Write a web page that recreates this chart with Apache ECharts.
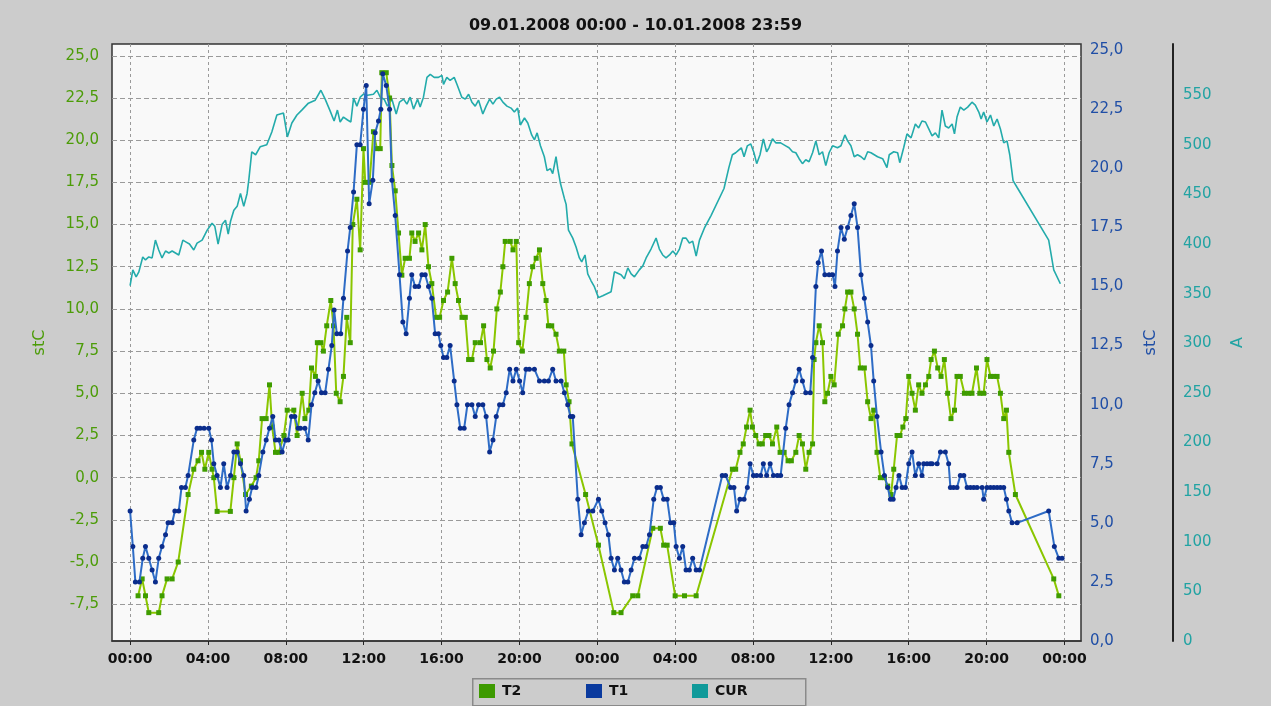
<!DOCTYPE html>
<html>
<head>
<meta charset="utf-8">
<script src="https://cdn.jsdelivr.net/npm/echarts@6/dist/echarts.min.js"></script>
<style>
html,body{margin:0;padding:0;background:#cccccc;}
#chart{width:1271px;height:706px;}
</style>
</head>
<body>
<div id="chart"></div>
<script>
// ---- data (time in hours since 09.01.2008 00:00) ----
const titleText = '09.01.2008 00:00 - 10.01.2008 23:59';
const xTicks = [0, 4, 8, 12, 16, 20, 24, 28, 32, 36, 40, 44, 48];
const xTickLabels = ['00:00','04:00','08:00','12:00','16:00','20:00','00:00','04:00','08:00','12:00','16:00','20:00','00:00'];
const leftTicks = [-7.5, -5, -2.5, 0, 2.5, 5, 7.5, 10, 12.5, 15, 17.5, 20, 22.5, 25];
const rightTicks = [0, 2.5, 5, 7.5, 10, 12.5, 15, 17.5, 20, 22.5, 25];
const ampTicks = [0, 50, 100, 150, 200, 250, 300, 350, 400, 450, 500, 550];
const seriesNames = ['T2', 'T1', 'CUR'];

const t2Data = [[0.41,-7],[0.62,-6],[0.79,-7],[0.96,-8],[1.47,-8],[1.64,-7],[1.9,-6],[2.16,-6],[2.47,-5],[2.98,-1],[3.27,0.5],[3.49,1],[3.67,1.5],[3.84,0.5],[4.04,1.5],[4.21,0.5],[4.3,0],[4.47,-2],[5.15,-2],[5.33,0],[5.5,2],[5.67,1],[5.93,-1],[6.23,-0.5],[6.47,0],[6.61,1],[6.78,3.5],[6.99,3.5],[7.16,5.5],[7.3,3],[7.47,1.5],[7.64,1.5],[7.9,2.5],[8.07,4],[8.41,4],[8.58,2.5],[8.84,5],[8.98,3.5],[9.18,4],[9.32,6.5],[9.52,6],[9.62,8],[9.8,8],[9.93,7.5],[10.1,9],[10.31,10.5],[10.45,9],[10.59,5],[10.79,4.5],[10.96,6],[11.13,9.5],[11.31,8],[11.44,15],[11.65,16.5],[11.82,13.5],[11.99,19.5],[12.08,17.5],[12.3,17.5],[12.5,20.5],[12.68,19.5],[12.85,19.5],[12.93,24],[13.16,24],[13.33,22.5],[13.45,18.5],[13.62,17],[13.79,14.5],[13.96,12],[14.13,13],[14.35,13],[14.47,14.5],[14.64,14],[14.82,14.5],[14.99,13.5],[15.16,15],[15.33,12.5],[15.5,11.5],[15.72,9.5],[15.9,9.5],[16.1,10.5],[16.31,11],[16.53,13],[16.7,11.5],[16.87,10.5],[17.05,9.5],[17.22,9.5],[17.39,7],[17.56,7],[17.73,8],[18.0,8],[18.16,9],[18.33,7],[18.5,6.5],[18.67,7.5],[18.84,10],[19.02,11],[19.15,12.5],[19.27,14],[19.53,14],[19.67,13.5],[19.84,14],[19.96,8],[20.15,7.5],[20.34,9.5],[20.51,11.5],[20.68,12.5],[20.86,13],[21.03,13.5],[21.2,11.5],[21.37,10.5],[21.49,9],[21.66,9],[21.88,8.5],[22.05,7.5],[22.28,7.5],[22.4,5.5],[22.55,4.5],[22.7,2],[23.4,-1],[24.06,-4],[24.85,-8],[25.22,-8],[25.82,-7],[26.08,-7],[26.85,-3],[27.24,-3],[27.41,-4],[27.59,-4],[28.0,-7],[28.48,-7],[29.08,-7],[30.94,0.5],[31.11,0.5],[31.33,1.5],[31.5,2],[31.67,3],[31.85,4],[31.97,3],[32.14,2.5],[32.31,2],[32.48,2],[32.65,2.5],[32.82,2.5],[33.0,2],[33.22,3],[33.39,1.5],[33.6,1.5],[33.8,1],[33.97,1],[34.2,1.5],[34.37,2.5],[34.54,2],[34.71,0.5],[34.88,1.5],[35.06,2],[35.14,7],[35.23,8],[35.4,9],[35.57,8],[35.69,4.5],[35.83,5],[36.0,6],[36.17,5.5],[36.38,8.5],[36.6,9],[36.72,10],[36.86,11],[37.03,11],[37.2,10],[37.37,8.5],[37.51,6.5],[37.72,6.5],[37.89,4.5],[38.06,3.5],[38.2,4],[38.37,1.5],[38.54,0],[38.75,0],[38.92,-0.5],[39.09,-1],[39.23,0.5],[39.4,2.5],[39.55,2.5],[39.7,3],[39.85,3.5],[40.0,6],[40.17,5],[40.34,4],[40.51,5.5],[40.68,5],[40.86,5.5],[41.03,6],[41.15,7],[41.32,7.5],[41.49,6.5],[41.66,6],[41.83,7],[42.0,5],[42.17,3.5],[42.35,4],[42.48,6],[42.65,6],[42.86,5],[43.08,5],[43.25,5],[43.48,6.5],[43.65,5],[43.85,5],[44.02,7],[44.2,6],[44.37,6],[44.54,6],[44.71,5],[44.88,3.5],[45.02,4],[45.14,1.5],[45.48,-1],[47.45,-6],[47.71,-7]];

const t1Data = [[0,5.5],[0.14,4],[0.27,2.5],[0.48,2.5],[0.65,3.5],[0.79,4],[0.96,3.5],[1.13,3],[1.3,2.5],[1.47,3.5],[1.64,4],[1.82,4.5],[1.95,5],[2.16,5],[2.3,5.5],[2.5,5.5],[2.64,6.5],[2.84,6.5],[2.98,7],[3.27,8.5],[3.44,9],[3.6,9],[3.8,9],[4.04,9],[4.18,8.5],[4.3,7.5],[4.47,7],[4.64,6.5],[4.81,7.5],[4.98,6.5],[5.16,7],[5.33,8],[5.5,8],[5.67,7.5],[5.84,7],[5.96,5.5],[6.13,6],[6.27,6.5],[6.47,6.5],[6.61,7],[6.82,8],[6.99,8.5],[7.16,9],[7.33,9.5],[7.47,8.5],[7.64,8.5],[7.81,8],[7.98,8.5],[8.12,8.5],[8.29,9.5],[8.46,9.5],[8.63,9],[8.75,9],[8.98,9],[9.15,8.5],[9.32,10],[9.49,10.5],[9.66,11],[9.83,10.5],[10.02,10.5],[10.19,11.5],[10.36,12.5],[10.48,14],[10.62,13],[10.82,13],[10.96,14.5],[11.17,16.5],[11.31,17.5],[11.48,19],[11.65,21],[11.82,21],[11.99,22.5],[12.13,23.5],[12.28,18.5],[12.47,19.5],[12.59,21.5],[12.76,22],[12.88,22.5],[12.98,24],[13.16,23.5],[13.33,22.5],[13.45,19.5],[13.62,18],[13.84,15.5],[14.01,13.5],[14.18,13],[14.35,14.5],[14.47,15.5],[14.64,15],[14.82,15],[14.99,15.5],[15.16,15.5],[15.33,15],[15.5,14.5],[15.67,13],[15.84,13],[15.96,12.5],[16.1,12],[16.27,12],[16.44,12.5],[16.65,11],[16.79,10],[16.96,9],[17.16,9],[17.33,10],[17.56,10],[17.73,9.5],[17.9,10],[18.12,10],[18.29,9.5],[18.47,8],[18.64,8.5],[18.81,9.5],[18.98,10],[19.15,10],[19.32,10.5],[19.5,11.5],[19.67,11],[19.84,11.5],[20.01,11],[20.17,10.5],[20.34,11.5],[20.51,11.5],[20.77,11.5],[21.03,11],[21.28,11],[21.49,11],[21.71,11.5],[21.88,11],[22.14,11],[22.31,10.5],[22.48,10],[22.62,9.5],[22.74,9.5],[23.0,6],[23.17,4.5],[23.34,5],[23.54,5.5],[23.77,5.5],[24.06,6],[24.23,5.5],[24.4,5],[24.57,4.5],[24.71,3.5],[24.88,3],[25.05,3.5],[25.22,3],[25.39,2.5],[25.57,2.5],[25.74,3],[25.91,3.5],[26.16,3.5],[26.34,4],[26.51,4],[26.68,4.5],[26.9,6],[27.07,6.5],[27.24,6.5],[27.41,6],[27.59,6],[27.76,5],[27.93,5],[28.05,4],[28.22,3.5],[28.39,4],[28.56,3],[28.73,3],[28.9,3.5],[29.08,3],[29.25,3],[30.42,7],[30.59,7],[30.85,6.5],[31.02,6.5],[31.16,5.5],[31.33,6],[31.54,6],[31.71,6.5],[31.85,7.5],[32.02,7],[32.19,7],[32.39,7],[32.53,7.5],[32.7,7],[32.88,7.5],[33.05,7],[33.25,7],[33.42,7],[33.68,9],[33.85,10],[34.03,10.5],[34.2,11],[34.37,11.5],[34.54,11],[34.71,10.5],[34.94,10.5],[35.06,12],[35.23,15],[35.35,16],[35.52,16.5],[35.69,15.5],[35.91,15.5],[36.09,15.5],[36.21,15],[36.34,16.5],[36.52,17.5],[36.69,17],[36.86,17.5],[37.03,18],[37.2,18.5],[37.37,17.5],[37.55,15.5],[37.72,14.5],[37.89,13.5],[38.06,12.5],[38.2,11],[38.37,9.5],[38.58,8],[38.75,7],[38.92,6.5],[39.06,6],[39.2,6],[39.35,6.5],[39.5,7],[39.66,6.5],[39.83,6.5],[40.0,7.5],[40.17,8],[40.34,7],[40.51,7.5],[40.68,7],[40.77,7.5],[40.94,7.5],[41.1,7.5],[41.2,7.5],[41.46,7.5],[41.63,8],[41.88,8],[42.05,7.5],[42.14,6.5],[42.3,6.5],[42.48,6.5],[42.65,7],[42.83,7],[43.0,6.5],[43.17,6.5],[43.34,6.5],[43.51,6.5],[43.77,6.5],[43.85,6],[44.02,6.5],[44.2,6.5],[44.37,6.5],[44.54,6.5],[44.71,6.5],[44.88,6.5],[45.02,6],[45.14,5.5],[45.31,5],[45.57,5],[47.19,5.5],[47.48,4],[47.71,3.5],[47.88,3.5]];

const curData = [[0,358],[0.14,374],[0.31,367],[0.45,372],[0.65,387],[0.79,384],[0.96,387],[1.13,386],[1.3,404],[1.47,394],[1.64,386],[1.82,393],[1.99,391],[2.16,393],[2.33,391],[2.5,389],[2.71,404],[2.88,402],[3.05,400],[3.27,394],[3.44,401],[3.7,404],[3.96,414],[4.21,421],[4.35,418],[4.52,400],[4.73,420],[4.9,424],[5.04,410],[5.16,423],[5.33,434],[5.5,438],[5.67,451],[5.84,438],[6.01,451],[6.1,465],[6.25,493],[6.45,490],[6.68,498],[7.02,500],[7.28,513],[7.54,530],[7.88,532],[8.08,508],[8.31,522],[8.57,530],[8.82,535],[9.16,542],[9.51,545],[9.8,555],[10.02,546],[10.28,534],[10.48,524],[10.65,535],[10.79,523],[10.96,528],[11.17,525],[11.34,523],[11.48,547],[11.65,539],[11.82,548],[11.99,551],[12.19,550],[12.5,551],[12.68,555],[12.85,548],[13.05,546],[13.22,539],[13.45,546],[13.67,531],[13.84,543],[14.05,546],[14.22,541],[14.39,548],[14.56,536],[14.77,546],[14.9,538],[15.07,548],[15.25,568],[15.42,571],[15.62,568],[15.84,568],[16.02,570],[16.1,561],[16.27,568],[16.44,565],[16.65,568],[16.79,561],[17.04,548],[17.22,546],[17.39,551],[17.56,543],[17.73,539],[17.9,545],[18.12,531],[18.29,539],[18.47,546],[18.64,541],[18.81,546],[18.98,548],[19.15,543],[19.36,539],[19.57,537],[19.74,533],[19.91,537],[20.05,520],[20.26,527],[20.43,522],[20.63,510],[20.77,505],[20.91,512],[21.08,499],[21.28,488],[21.42,474],[21.59,476],[21.71,471],[21.88,488],[21.97,476],[22.11,461],[22.31,446],[22.4,440],[22.52,414],[22.74,406],[22.91,397],[23.08,386],[23.2,382],[23.37,389],[23.51,370],[23.68,363],[23.85,357],[24.06,346],[24.28,348],[24.71,352],[24.88,372],[25.22,369],[25.39,365],[25.57,376],[25.74,370],[25.91,367],[26.16,374],[26.34,378],[26.51,386],[26.76,395],[27.02,406],[27.19,395],[27.36,389],[27.53,386],[27.71,389],[27.88,393],[28.05,389],[28.22,395],[28.39,406],[28.56,406],[28.73,401],[28.9,403],[29.08,388],[29.25,404],[29.5,416],[29.85,429],[30.51,456],[30.76,477],[30.94,490],[31.11,492],[31.28,495],[31.4,497],[31.54,488],[31.71,499],[31.88,501],[32.05,492],[32.19,481],[32.36,490],[32.53,506],[32.7,493],[32.82,497],[33.0,506],[33.17,502],[33.42,502],[33.68,499],[33.85,497],[34.03,493],[34.2,492],[34.37,486],[34.54,481],[34.71,485],[34.88,483],[35.06,492],[35.23,504],[35.4,490],[35.57,493],[35.74,479],[35.91,492],[36.09,499],[36.34,497],[36.52,499],[36.72,510],[36.86,504],[37.03,499],[37.2,488],[37.37,490],[37.55,488],[37.72,485],[37.89,493],[38.06,492],[38.23,490],[38.4,488],[38.66,486],[38.88,477],[39.0,490],[39.23,493],[39.43,492],[39.54,482],[39.74,497],[39.91,511],[40.12,507],[40.34,521],[40.51,517],[40.68,524],[40.86,523],[41.03,516],[41.2,509],[41.37,512],[41.54,507],[41.71,535],[41.88,519],[42.05,517],[42.23,521],[42.35,511],[42.48,528],[42.65,538],[42.83,535],[43.03,538],[43.25,543],[43.42,540],[43.6,533],[43.72,526],[43.85,533],[44.02,523],[44.2,530],[44.37,519],[44.54,526],[44.71,516],[44.88,502],[45.05,504],[45.19,490],[45.36,464],[45.57,457],[47.19,404],[47.45,374],[47.79,360]];

// ---- chart ----
const FONT = 'DejaVu Sans';
const dec = v => v.toFixed(1).replace('.', ',');
const legendColors = ['#3d9a00', '#0a3a9e', '#109a9a'];
const legendLeft = [479, 586, 692];

const legends = seriesNames.map((n, i) => ({
  left: legendLeft[i], top: 684,
  itemWidth: 16, itemHeight: 14, itemGap: 0, padding: 0,
  icon: 'rect',
  textStyle: {fontFamily: FONT, fontWeight: 'bold', fontSize: 14, color: '#111', padding: [0, 0, 0, 2]},
  data: [{name: n, itemStyle: {color: legendColors[i]}}]
}));

const chart = echarts.init(document.getElementById('chart'), null, {renderer: 'canvas'});
chart.setOption({
  backgroundColor: '#cccccc',
  animation: false,
  title: {
    text: titleText, left: 'center', top: 13,
    textStyle: {fontFamily: FONT, fontSize: 16, fontWeight: 'bold', color: '#111'}
  },
  graphic: [{
    type: 'rect', left: 472, top: 678, z: -1,
    shape: {width: 333, height: 27},
    style: {fill: '#cccccc', stroke: '#8a8a8a', lineWidth: 1.5}
  }],
  grid: {
    left: 112, right: 190, top: 44, bottom: 65,
    show: true, backgroundColor: '#f9f9f9', borderColor: '#333', borderWidth: 1.5
  },
  legend: legends,
  xAxis: {
    type: 'value', min: -0.93, max: 48.85,
    axisLine: {show: true, onZero: false, lineStyle: {color: '#333', width: 1.5}},
    axisTick: {show: true, customValues: xTicks, length: 4, lineStyle: {color: '#222'}},
    axisLabel: {
      customValues: xTicks, margin: 11,
      formatter: v => xTickLabels[xTicks.indexOf(v)],
      fontFamily: FONT, fontWeight: 'bold', fontSize: 14, color: '#111'
    },
    splitLine: {show: true, lineStyle: {color: '#9a9a9a', width: 1, type: [3, 3]}}
  },
  yAxis: [
    {
      type: 'value', position: 'left', min: -9.68, max: 25.70,
      name: 'stC', nameLocation: 'middle', nameGap: 64,
      nameTextStyle: {fontFamily: FONT, fontSize: 16, color: '#4c9c08'},
      axisLine: {show: false},
      axisTick: {show: false, customValues: leftTicks},
      axisLabel: {customValues: leftTicks, formatter: dec, margin: 13,
        fontFamily: FONT, fontSize: 15, color: '#4c9c08'},
      splitLine: {show: true, lineStyle: {color: '#9a9a9a', width: 1, type: [5, 3]}}
    },
    {
      type: 'value', position: 'right', min: 0, max: 25.26,
      name: 'stC', nameLocation: 'middle', nameGap: 62,
      nameTextStyle: {fontFamily: FONT, fontSize: 16, color: '#1f4ea6'},
      axisLine: {show: false},
      axisTick: {show: false, customValues: rightTicks},
      axisLabel: {customValues: rightTicks, formatter: dec, margin: 9,
        fontFamily: FONT, fontSize: 15, color: '#1f4ea6'},
      splitLine: {show: false}
    },
    {
      type: 'value', position: 'right', offset: 92, min: 0, max: 601.6,
      name: 'A', nameLocation: 'middle', nameGap: 57,
      nameTextStyle: {fontFamily: FONT, fontSize: 16, color: '#22a3a3'},
      axisLine: {show: true, lineStyle: {color: '#222', width: 2}},
      axisTick: {show: false, customValues: ampTicks},
      axisLabel: {customValues: ampTicks, margin: 10,
        fontFamily: FONT, fontSize: 15, color: '#22a3a3'},
      splitLine: {show: false}
    }
  ],
  series: [
    {
      name: seriesNames[2], type: 'line', yAxisIndex: 2, data: curData,
      symbol: 'none', lineStyle: {color: '#23abab', width: 1.6}, itemStyle: {color: '#23abab'}, z: 2
    },
    {
      name: seriesNames[0], type: 'line', yAxisIndex: 0, data: t2Data,
      symbol: 'rect', symbolSize: 5, showAllSymbol: true,
      lineStyle: {color: '#8ac600', width: 2}, itemStyle: {color: '#3f9c00'}, z: 3
    },
    {
      name: seriesNames[1], type: 'line', yAxisIndex: 1, data: t1Data,
      symbol: 'circle', symbolSize: 5, showAllSymbol: true,
      lineStyle: {color: '#2e6cc6', width: 2}, itemStyle: {color: '#0b2d8c'}, z: 4
    }
  ]
});
</script>
</body>
</html>
